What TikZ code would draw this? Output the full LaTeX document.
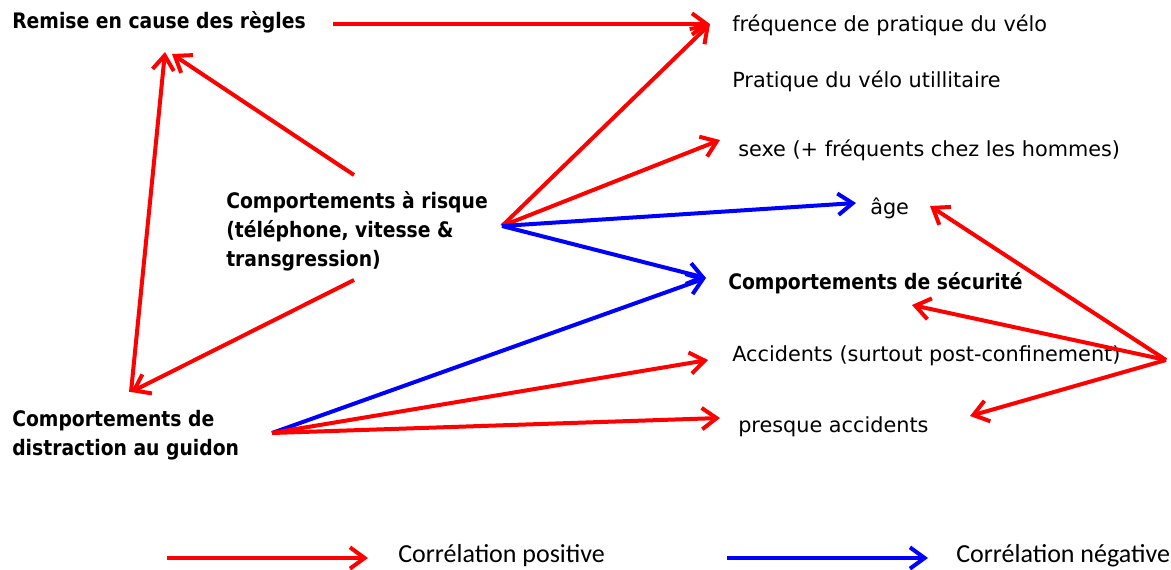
\documentclass[tikz,border=0pt]{standalone}
\usepackage{fontspec}
\setmainfont{DejaVu Sans}
\newfontfamily\narrowbold{DejaVu Sans Bold}[FakeStretch=0.88]
\newfontfamily\legendfont{Carlito}
\usetikzlibrary{arrows.meta}

\tikzset{
  posarrow/.style={draw={rgb,255:red,255;green,0;blue,0}, line width=3pt, -{Straight Barb[length=11pt,width=16pt,line width=3pt]}},
  negarrow/.style={draw={rgb,255:red,0;green,0;blue,255}, line width=3pt, -{Straight Barb[length=11pt,width=16pt,line width=3pt]}},
  plaintxt/.style={anchor=west, inner sep=0pt, font=\fontsize{15.6}{18}\selectfont},
  boldtxt/.style={anchor=west, inner sep=0pt, align=left, font=\narrowbold\fontsize{16}{21.8}\selectfont},
  legendtxt/.style={anchor=west, inner sep=0pt, font=\fontsize{19.5}{22}\selectfont\legendfont}
}

\begin{document}
\begin{tikzpicture}[x=0.75pt,y=0.75pt,yscale=-1,xscale=1]
\useasboundingbox (0,0) rectangle (1171,570);

% Text Node
\node [boldtxt] (regles) at (12,22) {Remise en cause des règles};
% Text Node
\node [boldtxt] (risque) at (226,231) {Comportements à risque\\(téléphone, vitesse \&\\transgression)};
% Text Node
\node [boldtxt] (distraction) at (12,435) {Comportements de\\distraction au guidon};
% Text Node
\node [plaintxt] (frequence) at (732,25) {fréquence de pratique du vélo};
% Text Node
\node [plaintxt] (utilitaire) at (732,81) {Pratique du vélo utillitaire};
% Text Node
\node [plaintxt] (sexe) at (738,150) {sexe (+ fréquents chez les hommes)};
% Text Node
\node [plaintxt] (age) at (870,208) {âge};
% Text Node
\node [boldtxt] (securite) at (728,283) {Comportements de sécurité};
% Text Node
\node [plaintxt] (accidents) at (732,356) {Accidents (surtout post-confinement)};
% Text Node
\node [plaintxt] (presque) at (738,427) {presque accidents};
% Text Node
\node [legendtxt] (legpos) at (398,556) {Corrélation positive};
% Text Node
\node [legendtxt] (legneg) at (956,556) {Corrélation négative};

% arrow ends
\coordinate (regles-out) at (333,24);
\coordinate (regles-in1) at (165,52);
\coordinate (regles-in2) at (172,54);
\coordinate (risque-up) at (354,175);
\coordinate (risque-down) at (354,280);
\coordinate (risque-out) at (502,226);
\coordinate (distraction-top) at (131,392);
\coordinate (distraction-out) at (272,433);
\coordinate (frequence-in) at (710,24);
\coordinate (sexe-in) at (720,140);
\coordinate (age-in) at (856,203);
\coordinate (age-right) at (930,206);
\coordinate (securite-in) at (706,278);
\coordinate (securite-right) at (912,305);
\coordinate (accidents-in) at (708,360);
\coordinate (presque-in) at (720,418);
\coordinate (presque-right) at (970,416);
\coordinate (hub) at (1166,360);
\coordinate (legpos-a) at (167,558);
\coordinate (legpos-b) at (368,558);
\coordinate (legneg-a) at (727,558);
\coordinate (legneg-b) at (928,558);

%Straight Lines
\draw [posarrow] (regles-out) -- (frequence-in);
\draw [posarrow] (risque-up) -- (regles-in2);
\draw [posarrow] (distraction-top) -- (regles-in1);
\draw [posarrow] (risque-down) -- (distraction-top);
%Straight Lines
\draw [posarrow] (risque-out) -- (frequence-in);
\draw [posarrow] (risque-out) -- (sexe-in);
\draw [negarrow] (risque-out) -- (age-in);
\draw [negarrow] (risque-out) -- (securite-in);
%Straight Lines
\draw [negarrow] (distraction-out) -- (securite-in);
\draw [posarrow] (distraction-out) -- (accidents-in);
\draw [posarrow] (distraction-out) -- (presque-in);
%Straight Lines
\draw [posarrow] (hub) -- (age-right);
\draw [posarrow] (hub) -- (securite-right);
\draw [posarrow] (hub) -- (presque-right);
%Legend
\draw [posarrow] (legpos-a) -- (legpos-b);
\draw [negarrow] (legneg-a) -- (legneg-b);

\end{tikzpicture}
\end{document}
